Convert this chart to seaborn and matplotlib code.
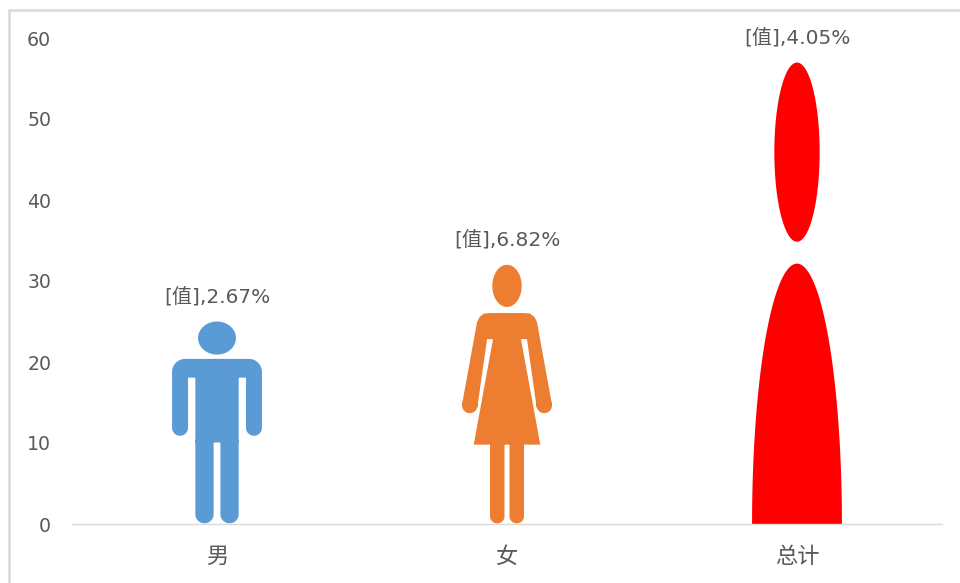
import numpy as np
import pandas as pd
import matplotlib
matplotlib.use("Agg")
import matplotlib.pyplot as plt
from matplotlib.lines import Line2D
from matplotlib.patches import PathPatch
from matplotlib.path import Path
import seaborn as sns

categories = ["男", "女", "总计"]
values = [25, 32, 57]
percents = [2.67, 6.82, 4.05]
colors = ["#5B9BD5", "#ED7D31", "#FF0000"]
y_ticks = [0, 10, 20, 30, 40, 50, 60]


# ---- icon outlines: drawn in a local 90-wide box, rescaled onto each bar ----
def ellipse(cx, cy, rx, ry, start=0.0, stop=2 * np.pi, n=80):
    t = np.linspace(start, stop, n)
    return np.column_stack([cx + rx * np.cos(t), cy + ry * np.sin(t)])


def rrect(x0, x1, y0, y1, r_top, r_bot=None):
    r_bot = r_top if r_bot is None else r_bot
    corners = [(x1 - r_top, y1 - r_top, 0, r_top), (x0 + r_top, y1 - r_top, 0.5 * np.pi, r_top),
               (x0 + r_bot, y0 + r_bot, np.pi, r_bot), (x1 - r_bot, y0 + r_bot, 1.5 * np.pi, r_bot)]
    return np.vstack([ellipse(cx, cy, r, r, a, a + 0.5 * np.pi, 14) for cx, cy, a, r in corners])


def mirror(p):
    return p * np.array([-1.0, 1.0])


def man_icon():
    parts = [
        ellipse(0, 185.5, 19, 16.5),
        rrect(-45, 45, 146, 164.7, 13, 0),
        rrect(-45, -29, 88, 150, 0, 8),
        rrect(29, 45, 88, 150, 0, 8),
        rrect(-21.7, 21.7, 81.3, 160, 0),
        rrect(-21.7, -3.4, 0.7, 90, 9),
        rrect(3.4, 21.7, 0.7, 90, 9),
    ]
    return parts, 202.0


def woman_icon():
    arm = np.array([(-45, 119), (-30, 201), (-27.5, 206), (-23, 209.5), (-16.7, 210), (-14, 184),
                    (-20, 184), (-29.7, 116)], dtype=float)
    parts = [
        ellipse(0, 237, 14.7, 21),
        np.array([(-16.7, 210), (16.7, 210), (14, 184), (33.3, 79), (-33.3, 79), (-14, 184)], dtype=float),
        arm, mirror(arm),
        ellipse(-37.3, 118, 7.7, 7.7), ellipse(37.3, 118, 7.7, 7.7),
        rrect(-17, -2.5, 0.7, 85, 7), rrect(2.5, 17, 0.7, 85, 7),
    ]
    return parts, 258.0


def blob_icon():
    parts = [
        ellipse(0, 371.3, 22.7, 89.5),
        ellipse(0, 0, 45, 260, 0, np.pi),
    ]
    return parts, 461.0


def icon_path(parts, box_h, bar):
    x, w, h = bar.get_x(), bar.get_width(), bar.get_height()
    verts, codes = [], []
    for p in parts:
        px, py = p[:, 0], p[:, 1]
        area = np.sum(px * np.roll(py, -1) - np.roll(px, -1) * py)
        if area < 0:
            p = p[::-1]
        q = np.column_stack([x + w / 2 + p[:, 0] / 90 * w, p[:, 1] / box_h * h])
        verts.append(np.vstack([q, q[:1]]))
        codes += [Path.MOVETO] + [Path.LINETO] * (len(q) - 1) + [Path.CLOSEPOLY]
    return Path(np.vstack(verts), codes)


sns.set_theme(style="white")
plt.rcParams["font.family"] = ["DejaVu Sans", "Noto Sans CJK SC"]

W, H = 960, 583
fig = plt.figure(figsize=(W / 100, H / 100), dpi=100, facecolor="white")
ax = fig.add_axes([72 / W, (H - 524) / H, 870 / W, 486 / H])

df = pd.DataFrame({"组": categories, "值": values})
sns.barplot(data=df, x="组", y="值", hue="组", palette=colors, saturation=1,
            width=0.31, legend=False, linewidth=0, ax=ax)

ax.set_xlim(-0.5, 2.5)
ax.set_ylim(0, 60)
ax.set_yticks(y_ticks)
ax.set_xlabel("")
ax.set_ylabel("")
ax.patch.set_alpha(0)
for side in ["top", "left", "right"]:
    ax.spines[side].set_visible(False)
ax.spines["bottom"].set_color("#D9D9D9")
ax.spines["bottom"].set_linewidth(1)
ax.tick_params(axis="y", length=0, pad=15, labelsize=13.6, labelcolor="#595959")
ax.tick_params(axis="x", length=0, pad=15, labelsize=16, labelcolor="#595959")
for lab in ax.get_xticklabels():
    lab.set_fontfamily(["Noto Sans CJK SC", "DejaVu Sans"])

icons = [man_icon(), woman_icon(), blob_icon()]
for bar, color, (parts, box_h), pct in zip(list(ax.patches), colors, icons, percents):
    # the bar fixes height and width; its silhouette is painted in its place
    bar.set_visible(False)
    ax.add_patch(PathPatch(icon_path(parts, box_h, bar), facecolor=color, edgecolor="none", lw=0))
    ax.annotate(f"[值],{pct:.2f}%", (bar.get_x() + bar.get_width() / 2, bar.get_height()),
                xytext=(0, 18), textcoords="offset points", ha="center", va="center",
                fontsize=14.5, color="#595959", annotation_clip=False)

# frame of the pasted picture: only top and left are inside the crop
border = "#D9D9D9"
fig.add_artist(Line2D([8.5 / W, 1], [1 - 10 / H, 1 - 10 / H], color=border, lw=1.8))
fig.add_artist(Line2D([8.5 / W, 8.5 / W], [0, 1 - 10 / H], color=border, lw=1.8))

fig.savefig("out.png", dpi=100, facecolor="white")
